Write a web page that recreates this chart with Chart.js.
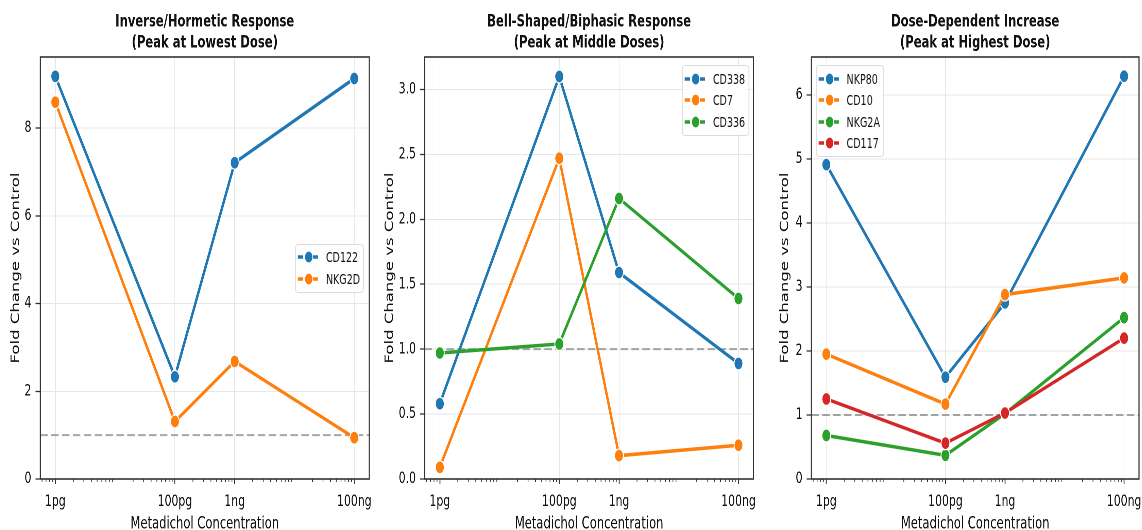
<!DOCTYPE html>
<html>
<head>
<meta charset="utf-8">
<title>Metadichol dose response</title>
<script src="https://cdn.jsdelivr.net/npm/chart.js@4.4.1/dist/chart.umd.min.js"></script>
<style>
  html, body { margin: 0; padding: 0; background: #fff; overflow: hidden; }
  #stage { position: absolute; left: 0; top: 0; height: 530px; transform-origin: 0 0; }
  .panel { position: absolute; top: 0; }
  .legend {
    position: absolute;
    border: 1px solid #d4d4d4;
    border-radius: 4px;
    background: rgba(255, 255, 255, 0.85);
    padding: 2px 5px 2px 3px;
    font: 14px "DejaVu Sans", sans-serif;
    color: #111;
  }
  .legend .row { display: flex; align-items: center; height: 21.5px; white-space: nowrap; }
  .legend canvas { margin-right: 9px; }
</style>
</head>
<body>
<div id="stage"></div>
<script>
// doses in pg, plotted on a log axis
const DOSES = [1, 100, 1000, 100000];
const DOSE_LABELS = ["1pg", "100pg", "1ng", "100ng"];
const X_MIN = 0.56;
const X_MAX = 178000;
const REF_LEVEL = 1;

const TITLES = [
    ["Inverse/Hormetic Response", "(Peak at Lowest Dose)"],
    ["Bell-Shaped/Biphasic Response", "(Peak at Middle Doses)"],
    ["Dose-Dependent Increase", "(Peak at Highest Dose)"]
];

// panel 1
const CD122 = [9.18, 2.33, 7.21, 9.13];
const NKG2D = [8.59, 1.31, 2.68, 0.94];
// panel 2
const CD338 = [0.58, 3.10, 1.59, 0.89];
const CD7 = [0.09, 2.47, 0.18, 0.26];
const CD336 = [0.97, 1.04, 2.16, 1.39];
// panel 3
const NKP80 = [4.91, 1.59, 2.75, 6.29];
const CD10 = [1.95, 1.17, 2.88, 3.14];
const NKG2A = [0.68, 0.37, 1.02, 2.52];
const CD117 = [1.25, 0.56, 1.03, 2.20];

const Y_TICKS_1 = [0, 2, 4, 6, 8];
const Y_TICKS_2 = [0, 0.5, 1.0, 1.5, 2.0, 2.5, 3.0];
const Y_TICKS_3 = [0, 1, 2, 3, 4, 5, 6];
const Y_MAX = [9.62, 3.25, 6.59];

const COLORS = ["#1f77b4", "#ff7f0e", "#2ca02c", "#d62728"];
const FONT = "'DejaVu Sans', sans-serif";
const TEXT = "#111";

const panels = [
    { title: TITLES[0], yTicks: Y_TICKS_1, yMax: Y_MAX[0], dec: 0, legend: "right",
      series: [["CD122", CD122], ["NKG2D", NKG2D]] },
    { title: TITLES[1], yTicks: Y_TICKS_2, yMax: Y_MAX[1], dec: 1, legend: "topright",
      series: [["CD338", CD338], ["CD7", CD7], ["CD336", CD336]] },
    { title: TITLES[2], yTicks: Y_TICKS_3, yMax: Y_MAX[2], dec: 0, legend: "topleft",
      series: [["NKP80", NKP80], ["CD10", CD10], ["NKG2A", NKG2A], ["CD117", CD117]] }
];

// the picture is horizontally squeezed: draw wide, then scale X
const S = 0.68;
const W = 1142, H = 530;
const PLOT_TOP = 57, PLOT_BOTTOM = 479;
const PLOT_LEFT = [40, 425, 811];
const PLOT_RIGHT = [369, 754, 1139];
const YTITLE_X = [16, 390.5, 785];
const YTITLE_SIZE = 16.5;
const RIGHT_PAD = 14;

const stage = document.getElementById("stage");
stage.style.width = (W / S) + "px";
stage.style.transform = "scaleX(" + S + ")";

const MINOR_X = [];
for (let e = -1; e <= 5; e++) {
    for (let m = 2; m <= 9; m++) MINOR_X.push(m * Math.pow(10, e));
}

const minorTicks = {
    id: "minorTicks",
    afterDatasetsDraw(chart) {
        const x = chart.scales.x, ctx = chart.ctx, b = chart.chartArea.bottom;
        ctx.save();
        ctx.strokeStyle = "#333";
        ctx.lineWidth = 1.1;
        MINOR_X.forEach(v => {
            if (v < x.min || v > x.max) return;
            const p = x.getPixelForValue(v);
            ctx.beginPath();
            ctx.moveTo(p, b);
            ctx.lineTo(p, b + 3);
            ctx.stroke();
        });
        ctx.restore();
    }
};

const frame = {
    id: "frame",
    afterDatasetsDraw(chart) {
        const { left, top, right, bottom } = chart.chartArea;
        const ctx = chart.ctx;
        ctx.save();
        ctx.strokeStyle = "#333";
        ctx.lineWidth = 1.6;
        ctx.strokeRect(left, top, right - left, bottom - top);
        ctx.restore();
    }
};

function drawIcon(color) {
    const c = document.createElement("canvas");
    const w = 32, h = 14;
    c.width = w * 2; c.height = h * 2;
    c.style.width = w + "px"; c.style.height = h + "px";
    const ctx = c.getContext("2d");
    ctx.scale(2, 2);
    ctx.strokeStyle = color;
    ctx.lineWidth = 3.5;
    ctx.setLineDash([8, 3]);
    ctx.beginPath();
    ctx.moveTo(0, h / 2);
    ctx.lineTo(w, h / 2);
    ctx.stroke();
    ctx.setLineDash([]);
    ctx.beginPath();
    ctx.arc(w / 2, h / 2, 6, 0, Math.PI * 2);
    ctx.fillStyle = color;
    ctx.fill();
    ctx.lineWidth = 1.2;
    ctx.strokeStyle = "#fff";
    ctx.stroke();
    return c;
}

function buildLegend(p, i) {
    const box = document.createElement("div");
    box.className = "legend";
    p.series.forEach(([label], k) => {
        const row = document.createElement("div");
        row.className = "row";
        row.appendChild(drawIcon(COLORS[k]));
        const t = document.createElement("span");
        t.textContent = label;
        row.appendChild(t);
        box.appendChild(row);
    });
    stage.appendChild(box);
    const bw = box.offsetWidth, bh = box.offsetHeight;
    const gapX = 5 / S, gapY = 8;
    const left = PLOT_LEFT[i] / S, right = PLOT_RIGHT[i] / S;
    if (p.legend === "right") {
        box.style.left = (right - gapX - bw) + "px";
        box.style.top = ((PLOT_TOP + PLOT_BOTTOM) / 2 - bh / 2) + "px";
    } else if (p.legend === "topright") {
        box.style.left = (right - gapX - bw) + "px";
        box.style.top = (PLOT_TOP + gapY) + "px";
    } else {
        box.style.left = (left + gapX) + "px";
        box.style.top = (PLOT_TOP + gapY) + "px";
    }
}

panels.forEach((p, i) => {
    const canvasLeft = YTITLE_X[i] / S - YTITLE_SIZE * 1.2 / 2;
    const axisW = PLOT_LEFT[i] / S - canvasLeft;
    const plotW = (PLOT_RIGHT[i] - PLOT_LEFT[i]) / S;
    const cw = axisW + plotW + RIGHT_PAD;

    const div = document.createElement("div");
    div.className = "panel";
    div.style.left = canvasLeft + "px";
    div.style.width = cw + "px";
    div.style.height = H + "px";
    const canvas = document.createElement("canvas");
    canvas.width = cw;
    canvas.height = H;
    div.appendChild(canvas);
    stage.appendChild(div);

    const datasets = p.series.map(([label, values], k) => ({
        label: label,
        data: DOSES.map((d, j) => ({ x: d, y: values[j] })),
        borderColor: COLORS[k],
        backgroundColor: COLORS[k],
        borderWidth: 3.5,
        pointRadius: 6.5,
        pointHoverRadius: 6.5,
        pointBorderColor: "#fff",
        pointBorderWidth: 1.3,
        tension: 0,
        order: 10 - k
    }));
    datasets.push({
        label: "control",
        data: [{ x: X_MIN, y: REF_LEVEL }, { x: X_MAX, y: REF_LEVEL }],
        borderColor: "rgba(128,128,128,0.7)",
        borderWidth: 2,
        borderDash: [11, 5],
        pointRadius: 0,
        order: 100
    });

    new Chart(canvas.getContext("2d"), {
        type: "line",
        data: { datasets },
        options: {
            responsive: false,
            animation: false,
            devicePixelRatio: 2,
            layout: { padding: { left: 0, right: RIGHT_PAD, top: 0, bottom: 0 } },
            plugins: {
                legend: { display: false },
                tooltip: { enabled: false },
                title: {
                    display: true,
                    text: p.title,
                    fullSize: false,
                    color: "#111",
                    font: { family: FONT, size: 17, weight: "bold", lineHeight: 1.25 },
                    padding: { top: 11.4, bottom: 3.1 }
                }
            },
            scales: {
                x: {
                    type: "logarithmic",
                    min: X_MIN,
                    max: X_MAX,
                    bounds: "data",
                    afterBuildTicks: s => { s.ticks = DOSES.map(v => ({ value: v })); },
                    afterFit: s => { s.height = H - PLOT_BOTTOM; },
                    ticks: {
                        callback: (v, idx) => DOSE_LABELS[idx],
                        autoSkip: false,
                        maxRotation: 0,
                        padding: 8,
                        color: TEXT,
                        font: { family: FONT, size: 16 }
                    },
                    grid: { color: "#e6e6e6", lineWidth: 1, tickColor: "#333", tickLength: 5, tickWidth: 1.3 },
                    border: { display: false },
                    title: {
                        display: true,
                        text: "Metadichol Concentration",
                        color: TEXT,
                        font: { family: FONT, size: 17, lineHeight: 1 },
                        padding: { top: 0, bottom: -2.5 }
                    }
                },
                y: {
                    type: "linear",
                    min: 0,
                    max: p.yMax,
                    bounds: "data",
                    afterBuildTicks: s => { s.ticks = p.yTicks.map(v => ({ value: v })); },
                    afterFit: s => { s.width = axisW; },
                    ticks: {
                        callback: v => v.toFixed(p.dec),
                        padding: 6,
                        color: TEXT,
                        font: { family: FONT, size: 16 }
                    },
                    grid: { color: "#e6e6e6", lineWidth: 1, tickColor: "#333", tickLength: 7, tickWidth: 1.3 },
                    border: { display: false },
                    title: {
                        display: true,
                        text: "Fold Change vs Control",
                        color: TEXT,
                        font: { family: FONT, size: YTITLE_SIZE },
                        padding: { top: 0, bottom: 0 }
                    }
                }
            }
        },
        plugins: [minorTicks, frame]
    });

    buildLegend(p, i);
});
</script>
</body>
</html>
